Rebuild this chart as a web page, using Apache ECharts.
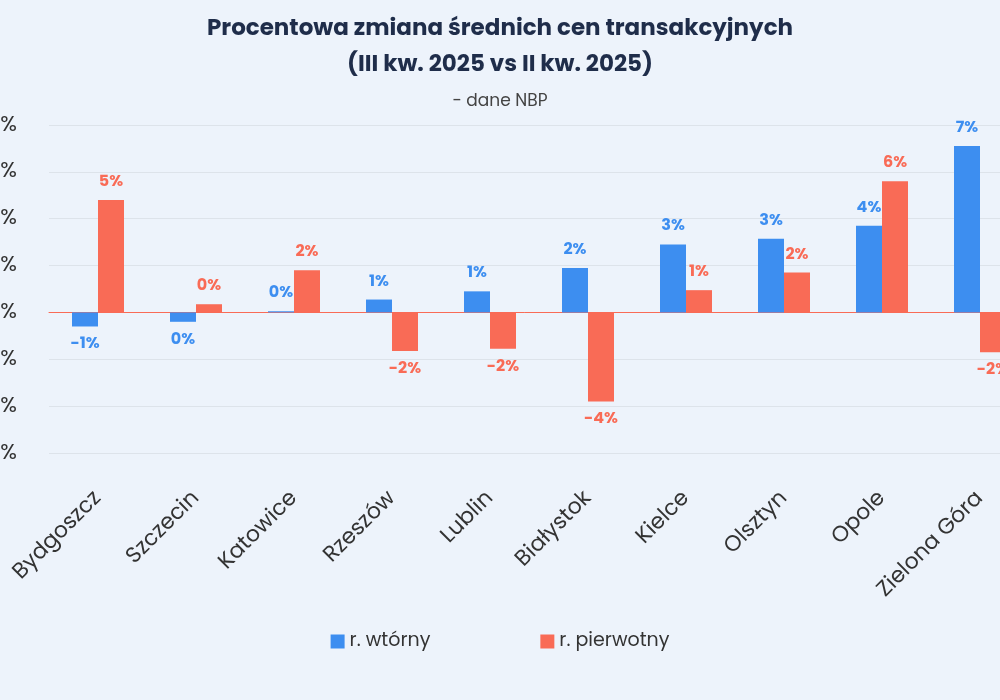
<!DOCTYPE html>
<html><head><meta charset="utf-8">
<script src="https://cdn.jsdelivr.net/npm/echarts@6/dist/echarts.min.js"></script>
<style>html,body{margin:0;background:#edf3fb}#c{width:1000px;height:700px}</style>
</head><body><div id="c"></div>
<script>
const cities = ['Bydgoszcz','Szczecin','Katowice','Rzeszów','Lublin','Białystok','Kielce','Olsztyn','Opole','Zielona Góra'];
const wtorny = [-0.6, -0.4, 0.05, 0.55, 0.9, 1.9, 2.9, 3.15, 3.7, 7.1];
const pierwotny = [4.8, 0.35, 1.8, -1.65, -1.55, -3.8, 0.95, 1.7, 5.6, -1.7];

const pct = p => Math.round(p.value) + '%';
const chart = echarts.init(document.getElementById('c'));
chart.setOption({
    backgroundColor: '#edf3fb',
    textStyle: {fontFamily: 'Poppins, Inter, sans-serif'},
    title: {
        text: 'Procentowa zmiana średnich cen transakcyjnych\n(III kw. 2025 vs II kw. 2025)',
        subtext: '- dane NBP',
        left: 'center', top: 6, itemGap: 10,
        textStyle: {fontSize: 23, fontWeight: 'bold', color: '#1f2d4a', lineHeight: 36},
        subtextStyle: {fontSize: 17, color: '#444'}
    },
    legend: {
        bottom: 44, itemGap: 110, itemWidth: 14, itemHeight: 14, icon: 'rect',
        textStyle: {fontSize: 19, color: '#333'}
    },
    grid: {left: 49, width: 980, top: 125, height: 328, outerBoundsMode: 'none', containLabel: false},
    xAxis: {
        type: 'category', data: cities,
        axisLine: {onZero: true, lineStyle: {color: '#f96b56'}},
        axisTick: {show: false},
        axisLabel: {rotate: 45, fontSize: 22, color: '#333', margin: 42, interval: 0}
    },
    yAxis: {
        type: 'value', min: -6, max: 8, interval: 2,
        axisLabel: {formatter: v => v + '%', fontSize: 22, color: '#333', margin: 32},
        splitLine: {lineStyle: {color: '#dde3ea'}}
    },
    series: [
        {name: 'r. wtórny', type: 'bar', data: wtorny, barWidth: 26, barGap: '0%',
         itemStyle: {color: '#3d8ef0'},
         label: {show: true, position: 'outside', formatter: pct, color: '#3d8ef0', fontWeight: 'bold', fontSize: 16, distance: 10}},
        {name: 'r. pierwotny', type: 'bar', data: pierwotny, barWidth: 26,
         itemStyle: {color: '#f96b56'},
         label: {show: true, position: 'outside', formatter: pct, color: '#f96b56', fontWeight: 'bold', fontSize: 16, distance: 10}}
    ]
});
</script></body></html>
